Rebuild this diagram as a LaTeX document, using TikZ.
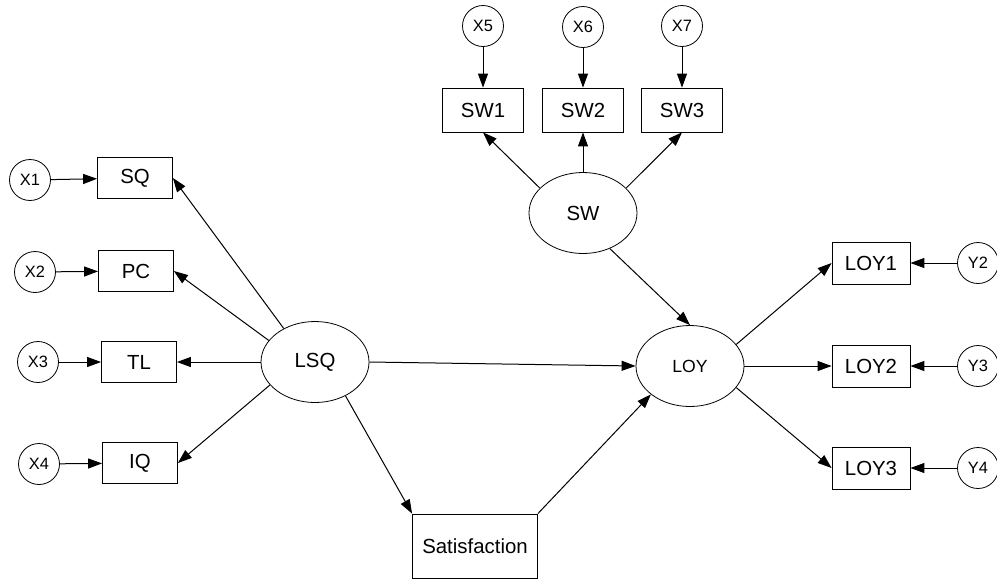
\documentclass[tikz,border=0pt]{standalone}
\usepackage{fontspec}
\setmainfont{Liberation Sans}
\usetikzlibrary{arrows.meta,shapes.geometric}

\begin{document}
\begin{tikzpicture}[x=0.5pt,y=-0.5pt]
  \tikzstyle{ErrorStyle}=[draw,circle,minimum size=20.5pt,inner sep=0pt,font=\fontsize{8.2}{9}\selectfont]
  \tikzstyle{ItemStyle}=[draw,rectangle,minimum width=37.5pt,minimum height=20.5pt,inner sep=0pt,font=\fontsize{10.2}{12}\selectfont]
  \tikzstyle{LatentStyle}=[draw,ellipse,minimum width=54pt,minimum height=40.5pt,inner sep=0pt,font=\fontsize{10.2}{12}\selectfont]
  \tikzstyle{EdgeStyle}=[-{Triangle[length=7pt,width=5pt]},line width=0.5pt]

  \useasboundingbox (0,0) rectangle (997,580);

  \node[LatentStyle] (lsq) at (315,362) {LSQ};
  \node[LatentStyle] (sw) at (583,213) {SW};
  \node[LatentStyle,font=\fontsize{8.8}{10}\selectfont] (loy) at (690,366) {LOY};

  \node[ItemStyle] (sq) at (135,178) {SQ};
  \node[ItemStyle] (pc) at (136,271) {PC};
  \node[ItemStyle] (tl) at (139,362) {TL};
  \node[ItemStyle] (iq) at (140,463) {IQ};

  \node[ItemStyle,minimum width=40.5pt,minimum height=22pt] (sw1) at (483,110) {SW1};
  \node[ItemStyle,minimum width=40.5pt,minimum height=22pt] (sw2) at (583,110) {SW2};
  \node[ItemStyle,minimum width=40.5pt,minimum height=22pt] (sw3) at (682,110) {SW3};

  \node[ItemStyle,minimum width=39pt,minimum height=21pt] (loy1) at (871,263) {LOY1};
  \node[ItemStyle,minimum width=39pt,minimum height=21pt] (loy2) at (871,366) {LOY2};
  \node[ItemStyle,minimum width=39pt,minimum height=21pt] (loy3) at (871,468) {LOY3};

  \node[ItemStyle,minimum width=62.5pt,minimum height=32pt] (sat) at (475,546) {Satisfaction};

  \node[ErrorStyle] (x1) at (30,180) {X1};
  \node[ErrorStyle] (x2) at (35,272) {X2};
  \node[ErrorStyle] (x3) at (38,362) {X3};
  \node[ErrorStyle] (x4) at (39,464) {X4};
  \node[ErrorStyle] (x5) at (483,26) {X5};
  \node[ErrorStyle] (x6) at (583,27) {X6};
  \node[ErrorStyle] (x7) at (682,26) {X7};
  \node[ErrorStyle] (y2) at (978,263) {Y2};
  \node[ErrorStyle] (y3) at (978,366) {Y3};
  \node[ErrorStyle] (y4) at (978,468) {Y4};

  \draw[EdgeStyle] (x1) -- (sq);
  \draw[EdgeStyle] (x2) -- (pc);
  \draw[EdgeStyle] (x3) -- (tl);
  \draw[EdgeStyle] (x4) -- (iq);
  \draw[EdgeStyle] (x5) -- (sw1);
  \draw[EdgeStyle] (x6) -- (sw2);
  \draw[EdgeStyle] (x7) -- (sw3);
  \draw[EdgeStyle] (y2) -- (loy1);
  \draw[EdgeStyle] (y3) -- (loy2);
  \draw[EdgeStyle] (y4) -- (loy3);

  \draw[EdgeStyle] (lsq.133) -- (sq.east);
  \draw[EdgeStyle] (lsq.155) -- (pc.east);
  \draw[EdgeStyle] (lsq.west) -- (tl.east);
  \draw[EdgeStyle] (lsq.207) -- (iq.east);
  \draw[EdgeStyle] (lsq.east) -- (loy.west);
  \draw[EdgeStyle] (lsq.312) -- (sat.north west);
  \draw[EdgeStyle] (sat.north east) -- (loy.216);

  \draw[EdgeStyle] (sw.150) -- (sw1.south);
  \draw[EdgeStyle] (sw.north) -- (sw2.south);
  \draw[EdgeStyle] (sw.30) -- (sw3.south);
  \draw[EdgeStyle] (sw.307) -- (loy.north);

  \draw[EdgeStyle] (loy.25) -- (loy1.west);
  \draw[EdgeStyle] (loy.east) -- (loy2.west);
  \draw[EdgeStyle] (loy.335) -- (loy3.west);
\end{tikzpicture}
\end{document}
